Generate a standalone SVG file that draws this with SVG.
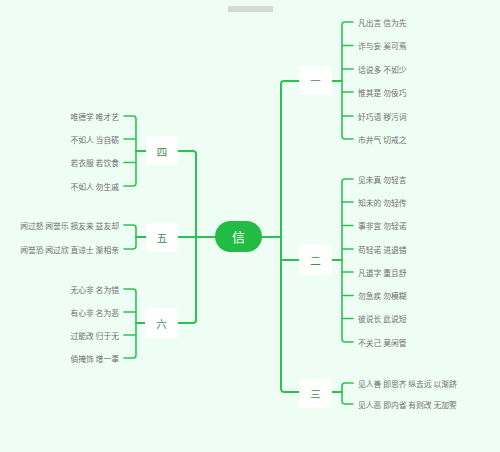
<svg xmlns="http://www.w3.org/2000/svg" width="500" height="452" viewBox="0 0 500 452">
<style>
.ln{fill:none;stroke:#2cc250;stroke-width:2;stroke-linecap:round;stroke-linejoin:round}
.lf{fill:none;stroke:#2cc250;stroke-width:1.6;stroke-linecap:round;stroke-linejoin:round}
.box{fill:#ffffff}
.nt{font-family:"Noto Sans CJK SC","Noto Sans",sans-serif;font-size:10.5px;fill:#4a8a5a;text-anchor:middle;dominant-baseline:central}
.lt{font-family:"Noto Sans CJK SC","Noto Sans",sans-serif;font-size:7.8px;fill:#6e6e6e;dominant-baseline:central}
.rt{text-anchor:end}
</style>
<rect width="500" height="452" fill="#effef4"/>
<rect x="228" y="6" width="45" height="6" fill="#d3d9d6"/>
<g id="connectors">
<path class="ln" d="M262 237 H281 M281 84 Q281 81 284 81 H299 M281 84 V388 Q281 392 284 392 H299 M281 260 H299"/>
<path class="ln" d="M215 237 H196 M196 154 Q196 151 193 151 H178 M196 154 V320 Q196 323 193 323 H178 M196 237 H178"/>
<path class="ln" d="M332 81 H342 M332 260 H342 M332 392 H342 M146 151 H136 M146 237 H136 M145 323 H136"/>
<path class="lf" d="M353 22 H345 Q342 22 342 25 V136 Q342 139 345 139 H353 M342 45.5 H353 M342 69 H353 M342 92 H353 M342 116 H353"/>
<path class="lf" d="M353 179 H345 Q342 179 342 182 V339 Q342 342 345 342 H353 M342 202 H353 M342 225.5 H353 M342 249 H353 M342 272 H353 M342 295.5 H353 M342 318.5 H353"/>
<path class="lf" d="M353 383 H345 Q342 383 342 386 V401 Q342 404 345 404 H353"/>
<path class="lf" d="M124 116 H133 Q136 116 136 119 V183 Q136 186 133 186 H124 M136 139 H124 M136 162.5 H124"/>
<path class="lf" d="M124 225 H133 Q136 225 136 228 V246 Q136 249 133 249 H124"/>
<path class="lf" d="M124 289 H133 Q136 289 136 292 V355 Q136 358 133 358 H124 M136 312 H124 M136 335 H124"/>
</g>
<g id="root">
<rect x="215" y="221" width="47" height="31" rx="15.5" fill="#22bb44"/>
<text x="238.5" y="236.5" class="nt" style="font-size:13px;fill:#ffffff">信</text>
</g>
<g id="n1">
<rect class="box" x="299" y="66" width="33" height="29" rx="4"/>
<text class="nt" x="315.5" y="80.5">一</text>
<text class="lt" x="358" y="22">凡出言 信为先</text>
<text class="lt" x="358" y="45.5">诈与妄 奚可焉</text>
<text class="lt" x="358" y="69">话说多 不如少</text>
<text class="lt" x="358" y="92">惟其是 勿佞巧</text>
<text class="lt" x="358" y="116">奸巧语 秽污词</text>
<text class="lt" x="358" y="139">市井气 切戒之</text>
</g>
<g id="n2">
<rect class="box" x="299" y="245" width="33" height="30" rx="4"/>
<text class="nt" x="315.5" y="260">二</text>
<text class="lt" x="358" y="179">见未真 勿轻言</text>
<text class="lt" x="358" y="202">知未的 勿轻传</text>
<text class="lt" x="358" y="225.5">事非宜 勿轻诺</text>
<text class="lt" x="358" y="249">苟轻诺 进退错</text>
<text class="lt" x="358" y="272">凡道字 重且舒</text>
<text class="lt" x="358" y="295.5">勿急疾 勿模糊</text>
<text class="lt" x="358" y="318.5">彼说长 此说短</text>
<text class="lt" x="358" y="342">不关己 莫闲管</text>
</g>
<g id="n3">
<rect class="box" x="299" y="379" width="33" height="29" rx="4"/>
<text class="nt" x="315.5" y="393">三</text>
<text class="lt" x="358" y="383">见人善 即思齐 纵去远 以渐跻</text>
<text class="lt" x="358" y="404">见人恶 即内省 有则改 无加警</text>
</g>
<g id="n4">
<rect class="box" x="146" y="136" width="32" height="29" rx="4"/>
<text class="nt" x="162" y="151">四</text>
<text class="lt rt" x="119" y="116">唯德学 唯才艺</text>
<text class="lt rt" x="119" y="139">不如人 当自砺</text>
<text class="lt rt" x="119" y="162.5">若衣服 若饮食</text>
<text class="lt rt" x="119" y="186">不如人 勿生戚</text>
</g>
<g id="n5">
<rect class="box" x="146" y="223" width="32" height="29" rx="4"/>
<text class="nt" x="162" y="237">五</text>
<text class="lt rt" x="119" y="225">闻过怒 闻誉乐 损友来 益友却</text>
<text class="lt rt" x="119" y="249">闻誉恐 闻过欣 直谅士 渐相亲</text>
</g>
<g id="n6">
<rect class="box" x="145" y="308" width="33" height="30" rx="4"/>
<text class="nt" x="161.5" y="323">六</text>
<text class="lt rt" x="119" y="289">无心非 名为错</text>
<text class="lt rt" x="119" y="312">有心非 名为恶</text>
<text class="lt rt" x="119" y="335">过能改 归于无</text>
<text class="lt rt" x="119" y="358">倘掩饰 增一辜</text>
</g>
</svg>
